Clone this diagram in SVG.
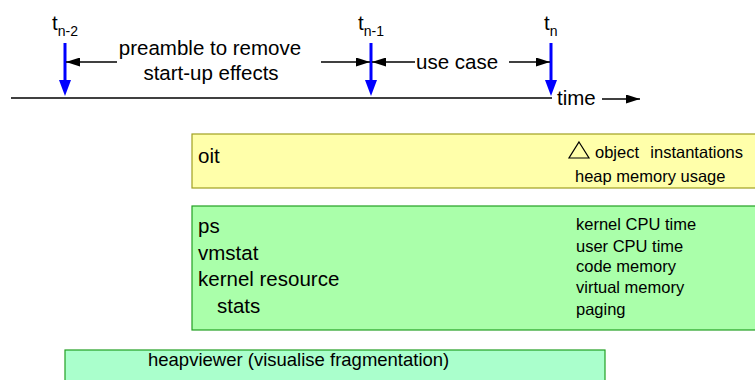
<svg xmlns="http://www.w3.org/2000/svg" width="755" height="380" viewBox="0 0 755 380">
<style>
text{font-family:"Liberation Sans",Arial,sans-serif;fill:#000}
.big{font-size:20.5px}
.mid{font-size:20.5px}
.hv{font-size:18.5px}
.sm{font-size:16.5px}
.sub{font-size:14px}
.blk{stroke:#000;stroke-width:1.4;fill:none}
.blue{stroke:#0000ff;stroke-width:3;fill:none}
</style>
<defs>
<marker id="ah" viewBox="0 0 14 9" refX="14" refY="4.5" markerWidth="14" markerHeight="9" markerUnits="userSpaceOnUse" orient="auto">
<path d="M0,0 L14,4.5 L0,9 Z" fill="#000"/>
</marker>
</defs>
<rect width="755" height="380" fill="#fff"/>
<g id="connectors">
<line class="blk" x1="11" y1="98" x2="552" y2="98"/>
<line class="blue" x1="65" y1="43" x2="65" y2="80"/>
<path d="M59,80 L71,80 L65,96 Z" fill="#0000ff"/>
<line class="blue" x1="371" y1="43" x2="371" y2="80"/>
<path d="M365,80 L377,80 L371,96 Z" fill="#0000ff"/>
<line class="blue" x1="551" y1="43" x2="551" y2="80"/>
<path d="M545,80 L557,80 L551,96 Z" fill="#0000ff"/>
<line class="blk" x1="117" y1="62" x2="66" y2="62" marker-end="url(#ah)"/>
<line class="blk" x1="321" y1="62" x2="370" y2="62" marker-end="url(#ah)"/>
<line class="blk" x1="415" y1="62" x2="372" y2="62" marker-end="url(#ah)"/>
<line class="blk" x1="509" y1="62" x2="550" y2="62" marker-end="url(#ah)"/>
<line class="blk" x1="602" y1="99" x2="640" y2="99" marker-end="url(#ah)"/>
</g>
<g id="labels">
<text class="big" x="52" y="30">t<tspan class="sub" dy="6">n-2</tspan></text>
<text class="big" x="358" y="30">t<tspan class="sub" dy="6">n-1</tspan></text>
<text class="big" x="544" y="30">t<tspan class="sub" dy="6">n</tspan></text>
<text class="big" x="210" y="55" text-anchor="middle">preamble to remove</text>
<text class="big" x="211" y="80" text-anchor="middle">start-up effects</text>
<text class="big" x="416" y="69">use case</text>
<text class="big" x="557" y="105">time</text>
</g>
<g id="oit">
<rect x="192" y="134" width="570" height="54" fill="#ffffaa" stroke="#a0a020" stroke-width="1.2"/>
<text class="mid" x="198" y="163">oit</text>
<path d="M579,142 L589,158 L569,158 Z" fill="none" stroke="#000" stroke-width="1.2"/>
<text class="sm" x="595" y="158">object</text>
<text class="sm" x="743" y="158" text-anchor="end">instantations</text>
<text class="sm" x="575" y="182">heap memory usage</text>
</g>
<g id="ps">
<rect x="192" y="206" width="570" height="124" fill="#aaffaa" stroke="#22a022" stroke-width="1.2"/>
<text class="mid" x="198" y="233">ps</text>
<text class="mid" x="198" y="260">vmstat</text>
<text class="mid" x="198" y="286">kernel resource</text>
<text class="mid" x="217" y="313">stats</text>
<text class="sm" x="576" y="230">kernel CPU time</text>
<text class="sm" x="576" y="252">user CPU time</text>
<text class="sm" x="576" y="272">code memory</text>
<text class="sm" x="576" y="293">virtual memory</text>
<text class="sm" x="576" y="315">paging</text>
</g>
<g id="heapviewer">
<rect x="65" y="350" width="540" height="40" fill="#aaffcc" stroke="#22a022" stroke-width="1.2"/>
<text class="hv" x="148" y="366">heapviewer (visualise fragmentation)</text>
</g>
</svg>
